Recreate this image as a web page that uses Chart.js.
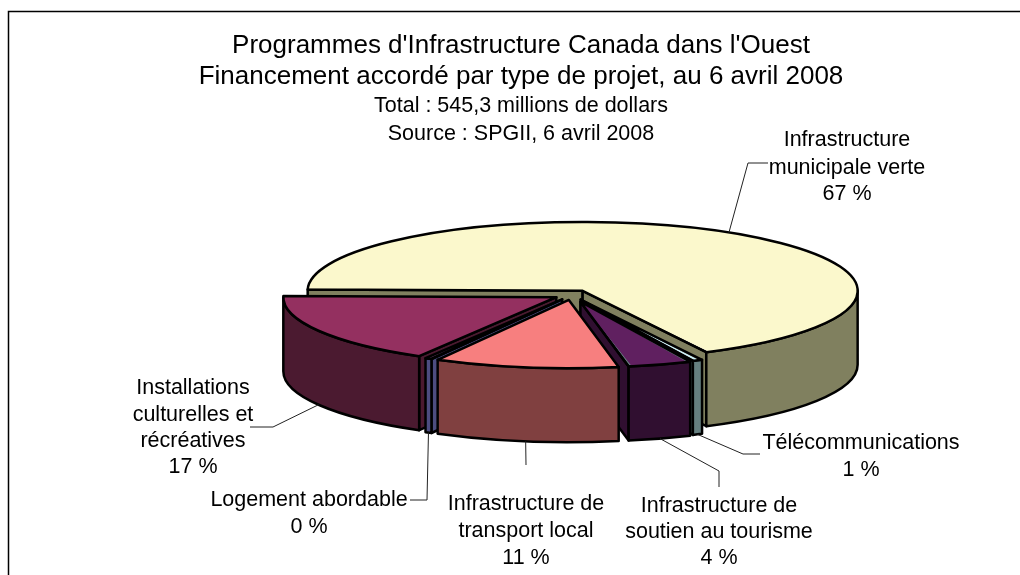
<!DOCTYPE html>
<html><head><meta charset="utf-8">
<style>html,body{margin:0;padding:0;background:#fff}canvas{display:block}</style>
<script src="https://cdn.jsdelivr.net/npm/chart.js@4"></script>
</head><body><canvas id="c" width="1020" height="575"></canvas>
<script>
const titleLines = ["Programmes d'Infrastructure Canada dans l'Ouest","Financement accordé par type de projet, au 6 avril 2008"];
const subtitleLines = ["Total : 545,3 millions de dollars","Source : SPGII, 6 avril 2008"];
const categories = ["Infrastructure municipale verte","Télécommunications","Infrastructure de soutien au tourisme","Infrastructure de transport local","Logement abordable","Installations culturelles et récréatives"];
const shares = [67.3,0.6,3.9,10.9,0.4,16.9];
const percentLabels = ["67 %","1 %","4 %","11 %","0 %","17 %"];
const topColors = ["#FBF8CC","#CCEEF8","#602060","#F77F7F","#9090E0","#943060"];
const wallColors = ["#80805F","#668080","#300F30","#804040","#4D4D80","#4B1A30"];
const explode = [80,80,112,80,80,72];
const rimRadii = [275,270,264,273,272,273];

const FONT = '"Liberation Sans", Arial, sans-serif';
const CX=572, CY=295, SQUASH=0.25, DEPTH=74;
const paintOrder=[0,5,1,2,4,3];
const labelBlocks=[
 {i:0,x:847,lines:["Infrastructure","municipale verte",percentLabels[0]],ys:[140,168,194],low:false,elbow:[[748,163],[768,163]]},
 {i:1,x:861,lines:["Télécommunications",percentLabels[1]],ys:[443,470],low:true,elbow:[[743,454],[760,454]]},
 {i:2,x:719,lines:["Infrastructure de","soutien au tourisme",percentLabels[2]],ys:[506,532,558],low:true,elbow:[[719,471],[719,487]]},
 {i:3,x:526,lines:["Infrastructure de","transport local",percentLabels[3]],ys:[504,531,558],low:true,elbow:[[526,465]]},
 {i:4,x:309,lines:["Logement abordable",percentLabels[4]],ys:[500,527],low:true,elbow:[[427,500],[410,500]]},
 {i:5,x:193,lines:["Installations","culturelles et","récréatives",percentLabels[5]],ys:[388,415,441,467],low:true,elbow:[[273,427],[250,427]]}
];
function sliceGeom(el,i){
  const mid=(el.startAngle+el.endAngle)/2, off=explode[i]/4, r=rimRadii[i];
  const sx=CX+Math.cos(mid)*off, sy=CY+Math.sin(mid)*off*SQUASH;
  const pt=a=>[sx+Math.cos(a)*r, sy+Math.sin(a)*r*SQUASH];
  return {sx,sy,pt,a0:el.startAngle,a1:el.endAngle,r};
}
function ellipseArc(ctx,g,a0,a1,dy,ccw){ctx.ellipse(g.sx,g.sy+dy,g.r,g.r*SQUASH,0,a0,a1,!!ccw);}
function strokeFill(ctx,col){ctx.closePath();ctx.fillStyle=col;ctx.fill();ctx.stroke();}
const pie3d={id:'pie3d',
 afterDatasetsUpdate(chart){
  // Chart.js widens an exploded arc by offset*(1-sin(circumference)); compensate so every rim has its own radius.
  chart.getDatasetMeta(0).data.forEach((el,i)=>{
    const fix=1-Math.sin(Math.min(Math.PI,el.circumference));
    el.outerRadius=rimRadii[i]-explode[i]/4*fix;
  });
 },
 beforeDraw(chart){const ctx=chart.ctx;ctx.save();ctx.strokeStyle='#000';ctx.lineWidth=1.5;
   ctx.beginPath();ctx.moveTo(8.5,575);ctx.lineTo(8.5,11.5);ctx.lineTo(1020,11.5);ctx.stroke();ctx.restore();},
 beforeDatasetsDraw(chart){
  const ctx=chart.ctx, arcs=chart.getDatasetMeta(0).data;
  ctx.save();ctx.strokeStyle='#000';ctx.lineWidth=2.5;ctx.lineJoin='round';
  for(const i of paintOrder){
    const g=sliceGeom(arcs[i],i), col=wallColors[i];
    for(const [a,n] of [[g.a0,g.a0-Math.PI/2],[g.a1,g.a1+Math.PI/2]]){
      if(Math.sin(n)>0){const p=g.pt(a);ctx.beginPath();ctx.moveTo(g.sx,g.sy);ctx.lineTo(p[0],p[1]);ctx.lineTo(p[0],p[1]+DEPTH);ctx.lineTo(g.sx,g.sy+DEPTH);strokeFill(ctx,col);}
    }
    const a=Math.max(g.a0,0), b=Math.min(g.a1,Math.PI);
    if(b>a){ctx.beginPath();ellipseArc(ctx,g,a,b,0);ellipseArc(ctx,g,b,a,DEPTH,true);strokeFill(ctx,col);}
  }
  ctx.restore();
  const el=arcs[0];
  ctx.save();ctx.translate(CX,CY);ctx.scale(1,SQUASH);ctx.translate(-el.x,-el.y);
 },
 afterDatasetsDraw(chart){
  const ctx=chart.ctx, arcs=chart.getDatasetMeta(0).data;
  ctx.restore();
  ctx.save();ctx.strokeStyle='#000';ctx.lineWidth=2.5;ctx.lineJoin='round';
  for(const i of paintOrder){
    const g=sliceGeom(arcs[i],i);
    ctx.beginPath();ctx.moveTo(g.sx,g.sy);ellipseArc(ctx,g,g.a0,g.a1,0);ctx.closePath();ctx.stroke();
  }
  ctx.restore();
  ctx.save();ctx.strokeStyle='#222';ctx.lineWidth=1;ctx.fillStyle='#000';ctx.font='21.5px '+FONT;ctx.textAlign='center';ctx.textBaseline='middle';
  for(const b of labelBlocks){
    const g=sliceGeom(arcs[b.i],b.i), p=g.pt((g.a0+g.a1)/2);
    ctx.beginPath();ctx.moveTo(p[0],p[1]+(b.low?DEPTH:0));
    for(const q of b.elbow)ctx.lineTo(q[0],q[1]);
    ctx.stroke();
    b.lines.forEach((t,k)=>ctx.fillText(t,b.x,b.ys[k]));
  }
  ctx.restore();
 }};
new Chart(document.getElementById('c'),{
 type:'pie',
 data:{labels:categories,datasets:[{data:shares,backgroundColor:topColors,borderWidth:0,offset:explode,radius:275,clip:false,hoverOffset:0}]},
 options:{responsive:false,animation:false,events:[],rotation:-89,devicePixelRatio:1,
  layout:{padding:{left:22,top:30}},
  plugins:{legend:{display:false},tooltip:{enabled:false},
   title:{display:true,text:titleLines,color:'#000',font:{family:FONT,size:26,weight:'normal',lineHeight:1.192},padding:{top:0,bottom:0}},
   subtitle:{display:true,text:subtitleLines,color:'#000',font:{family:FONT,size:21.5,weight:'normal',lineHeight:1.302},padding:{top:0,bottom:0}}
  }},
 plugins:[pie3d]});
</script></body></html>
